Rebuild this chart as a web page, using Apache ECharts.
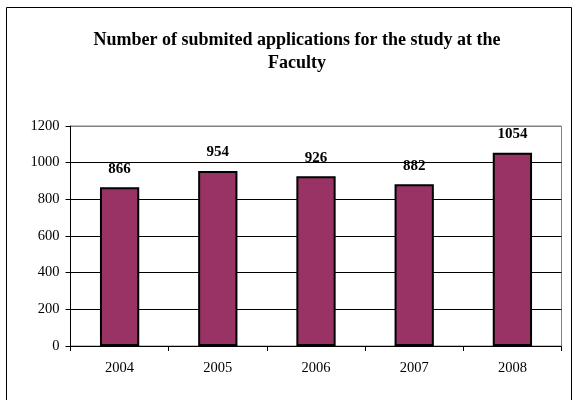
<!DOCTYPE html>
<html>
<head>
<meta charset="utf-8">
<script src="https://cdn.jsdelivr.net/npm/echarts@6/dist/echarts.min.js"></script>
<style>html,body{margin:0;padding:0;background:#fff}#c{width:578px;height:400px}</style>
</head>
<body>
<div id="c"></div>
<script>
const categories = ['2004', '2005', '2006', '2007', '2008'];
const applications = [866, 954, 926, 882, 1054];
const yTicks = [0, 200, 400, 600, 800, 1000, 1200];

const chart = echarts.init(document.getElementById('c'), null, {renderer: 'canvas'});
const serif = '"Liberation Serif", "Times New Roman", serif';
chart.setOption({
  animation: false,
  backgroundColor: '#fff',
  graphic: [{
    type: 'rect', shape: {x: 6.5, y: 7.5, width: 565, height: 400},
    style: {fill: 'none', stroke: '#000', lineWidth: 1}, silent: true
  }],
  title: {
    text: 'Number of submited applications for the study at the\nFaculty',
    left: 292, textAlign: 'center', top: 24,
    textStyle: {fontFamily: serif, fontWeight: 'bold', fontSize: 18, color: '#000', lineHeight: 23}
  },
  grid: {left: 70.5, right: 16.5, top: 126, bottom: 54, show: true, borderColor: '#808080', borderWidth: 1, backgroundColor: 'transparent'},
  xAxis: {
    type: 'category', data: categories,
    axisLine: {lineStyle: {color: '#000', width: 1}},
    axisTick: {show: true, alignWithLabel: false, length: 5, lineStyle: {color: '#000'}},
    axisLabel: {fontFamily: serif, fontSize: 14.5, color: '#000', margin: 15}
  },
  yAxis: {
    type: 'value', min: yTicks[0], max: yTicks[yTicks.length - 1], interval: 200,
    axisLine: {show: true, lineStyle: {color: '#000', width: 1}},
    axisTick: {show: true, length: 5, lineStyle: {color: '#000'}},
    axisLabel: {fontFamily: serif, fontSize: 14.5, color: '#000', margin: 11, formatter: v => String(v)},
    splitLine: {show: true, lineStyle: {color: ['#000', '#000', '#000', '#000', '#000', '#000', '#808080'], width: 1}}
  },
  series: [{
    type: 'bar', data: applications, barWidth: '40%',
    itemStyle: {color: '#993366', borderColor: '#000', borderWidth: 2},
    label: {show: true, position: 'top', distance: 11, fontFamily: serif, fontWeight: 'bold', fontSize: 15, color: '#000'}
  }]
});
</script>
</body>
</html>
